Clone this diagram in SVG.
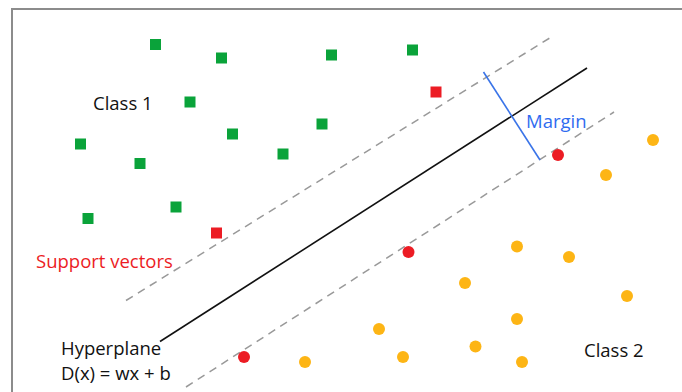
<svg xmlns="http://www.w3.org/2000/svg" width="682" height="392" viewBox="0 0 682 392">
<style>
.t{font-family:"Open Sans","Liberation Sans",sans-serif;font-size:18.5px;fill:#111}
.g{fill:#0aa33a}
.r{fill:#ec1c24}
.o{fill:#fdb515}
.dash{stroke:#999;stroke-width:1.5;stroke-dasharray:8 6;fill:none}
</style>
<rect width="682" height="392" fill="#fff"/>
<path d="M12,392 V9 H682" fill="none" stroke="#8c8c8c" stroke-width="2"/>
<g id="connectors">
<line class="dash" x1="126" y1="300.5" x2="553" y2="36"/>
<line class="dash" x1="186" y1="387" x2="614" y2="112"/>
<line x1="160" y1="341.5" x2="587" y2="68" stroke="#111" stroke-width="1.6"/>
<line x1="483.5" y1="72" x2="540" y2="160" stroke="#3a74e8" stroke-width="1.6"/>
</g>
<g id="class1">
<rect class="g" x="150" y="39" width="11" height="11"/>
<rect class="g" x="216" y="52.5" width="11" height="11"/>
<rect class="g" x="326" y="49.5" width="11" height="11"/>
<rect class="g" x="407" y="44.5" width="11" height="11"/>
<rect class="g" x="184.5" y="96.5" width="11" height="11"/>
<rect class="g" x="227" y="128.5" width="11" height="11"/>
<rect class="g" x="316.5" y="118.5" width="11" height="11"/>
<rect class="g" x="75" y="138.5" width="11" height="11"/>
<rect class="g" x="134.5" y="158" width="11" height="11"/>
<rect class="g" x="277.5" y="148.5" width="11" height="11"/>
<rect class="g" x="170.5" y="201.5" width="11" height="11"/>
<rect class="g" x="82.5" y="213" width="11" height="11"/>
</g>
<g id="support-vectors">
<rect class="r" x="430.5" y="86.5" width="11" height="11"/>
<rect class="r" x="211" y="227.5" width="11" height="11"/>
<circle class="r" cx="558" cy="155" r="6"/>
<circle class="r" cx="408.5" cy="252" r="6"/>
<circle class="r" cx="244" cy="357" r="6"/>
</g>
<g id="class2">
<circle class="o" cx="653" cy="140" r="6"/>
<circle class="o" cx="606" cy="175" r="6"/>
<circle class="o" cx="517" cy="246.5" r="6"/>
<circle class="o" cx="569" cy="257" r="6"/>
<circle class="o" cx="465" cy="283" r="6"/>
<circle class="o" cx="627" cy="296" r="6"/>
<circle class="o" cx="517" cy="319" r="6"/>
<circle class="o" cx="379" cy="329" r="6"/>
<circle class="o" cx="475.5" cy="346.5" r="6"/>
<circle class="o" cx="403" cy="357" r="6"/>
<circle class="o" cx="305" cy="362" r="6"/>
<circle class="o" cx="522" cy="362" r="6"/>
</g>
<g id="labels">
<text class="t" x="93" y="110">Class 1</text>
<text class="t" x="36" y="268" style="fill:#ec1c24">Support vectors</text>
<text class="t" x="526" y="128" style="fill:#2f6cf0;font-weight:500">Margin</text>
<text class="t" x="61" y="355">Hyperplane</text>
<text class="t" x="61" y="380">D(x) = wx + b</text>
<text class="t" x="584" y="357">Class 2</text>
</g>
</svg>
